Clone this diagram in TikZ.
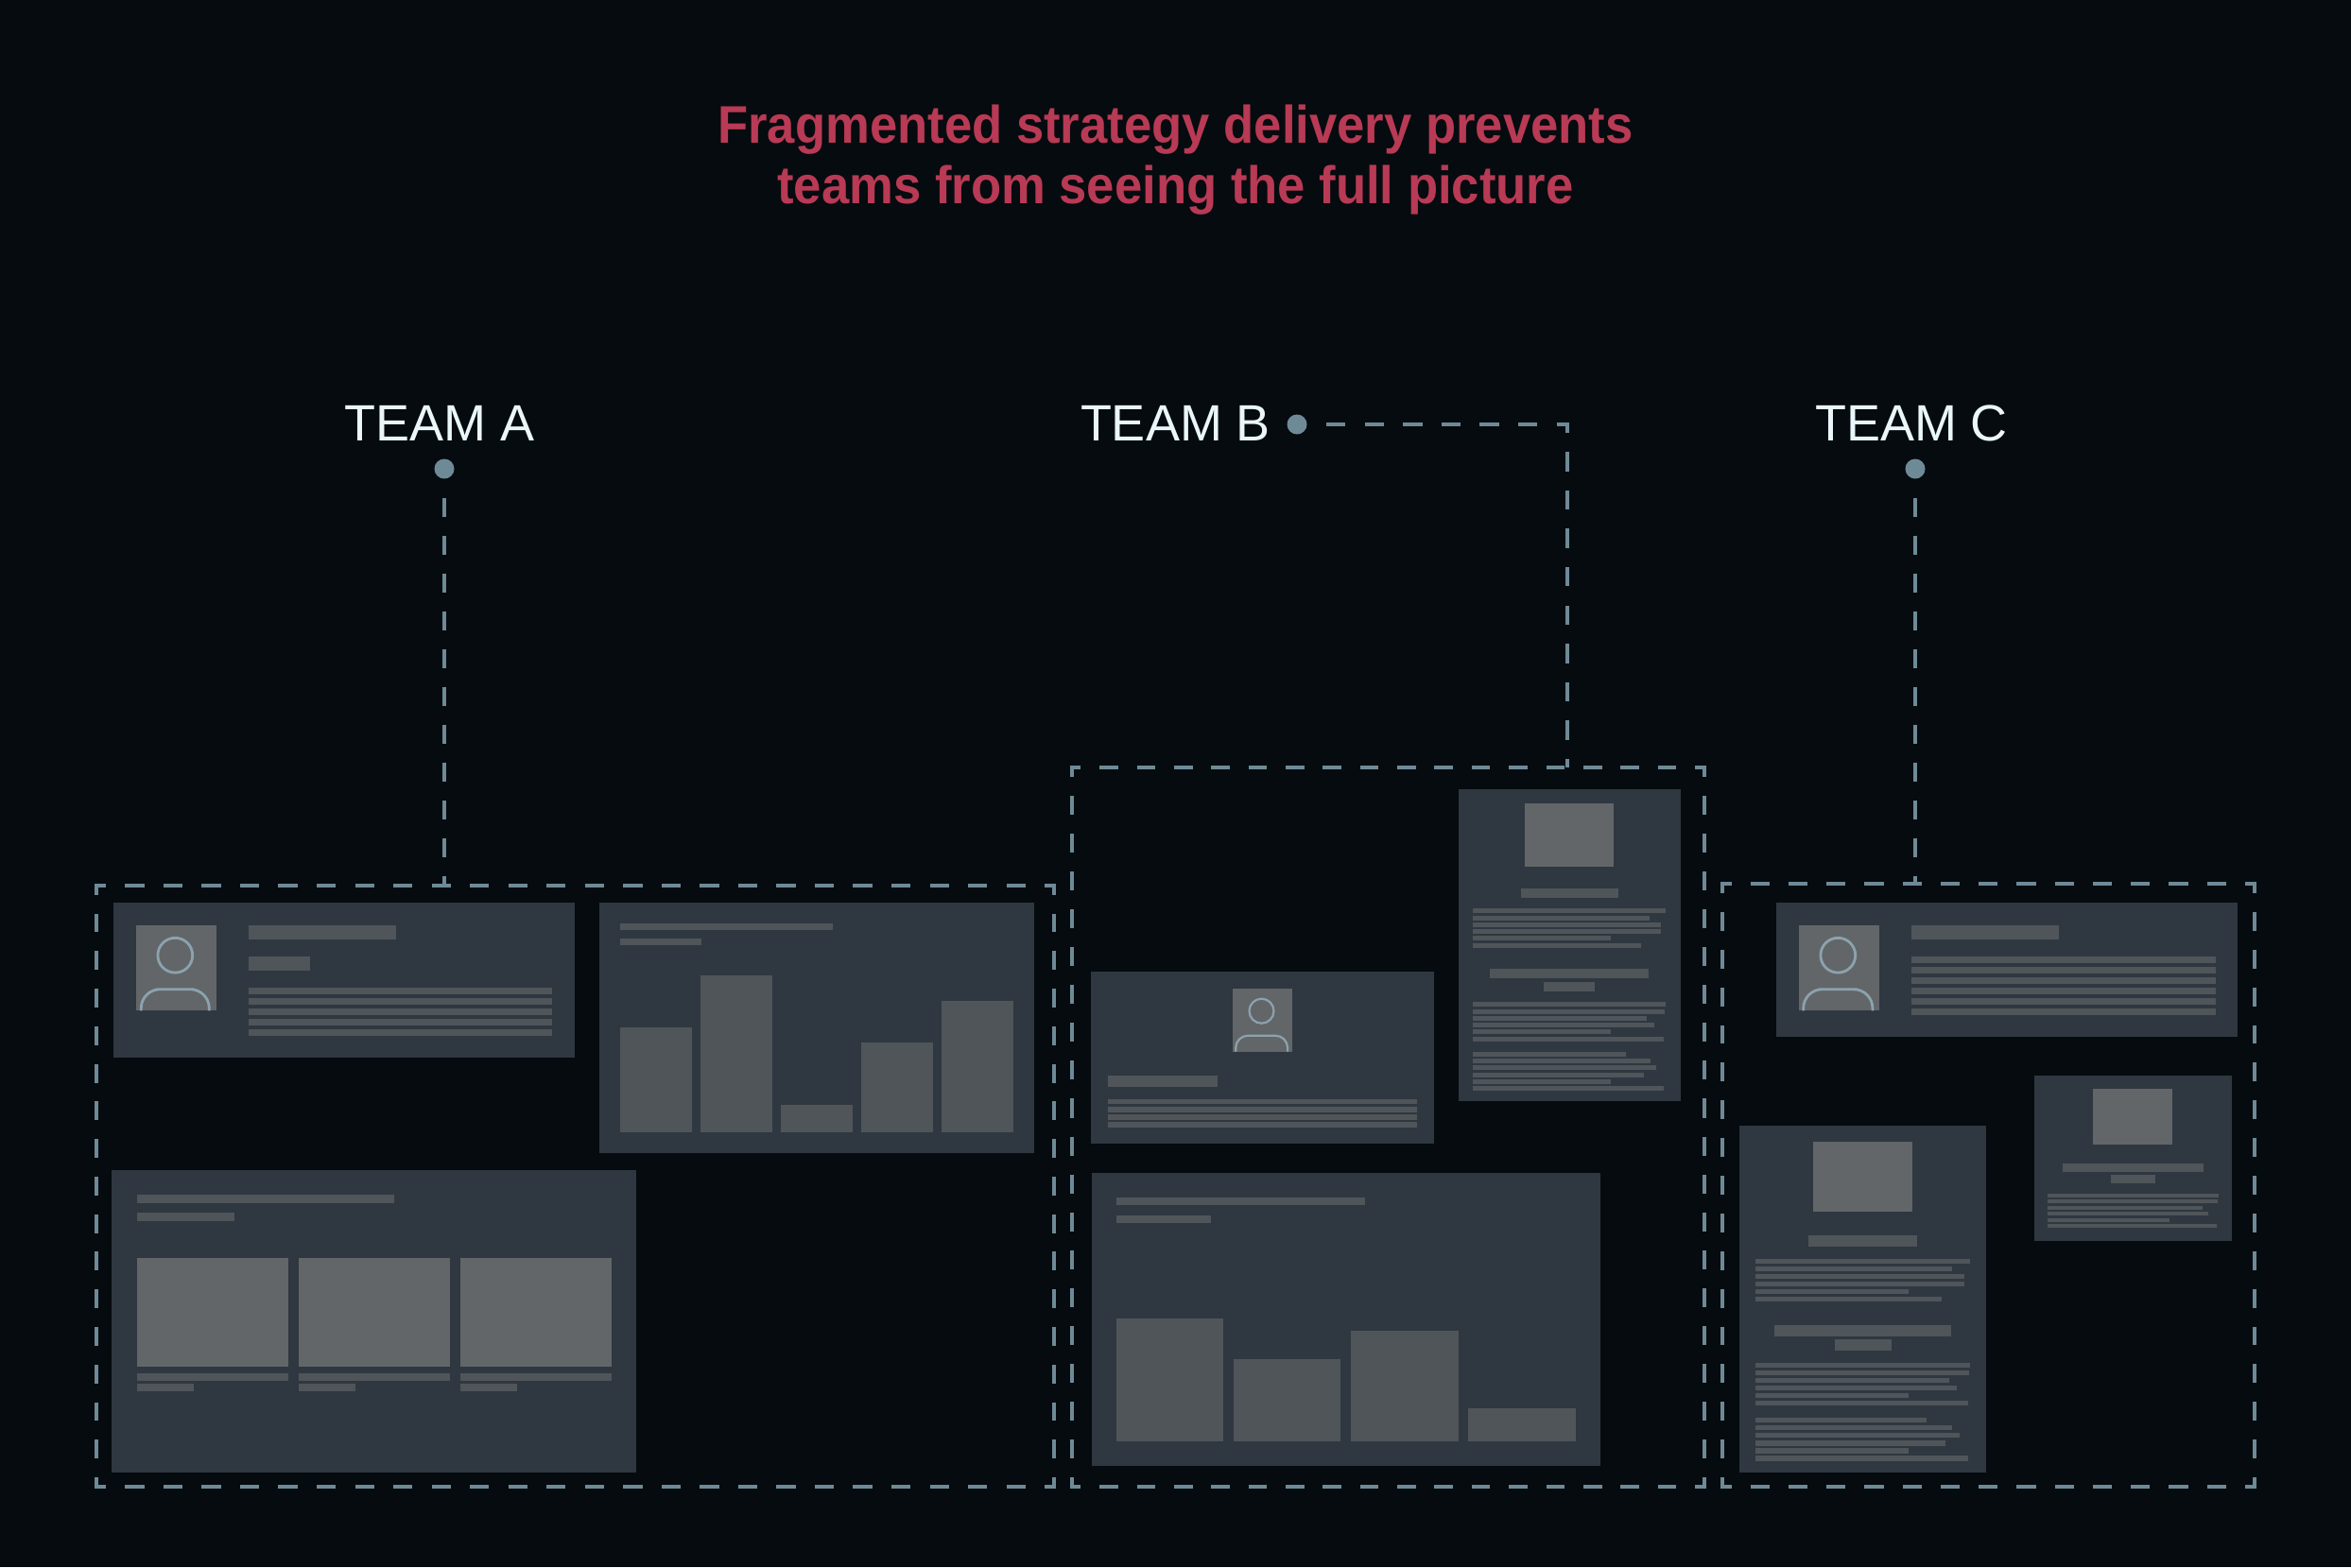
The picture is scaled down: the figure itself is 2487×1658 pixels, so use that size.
\documentclass[tikz,border=0pt]{standalone}
\usepackage{fontspec}
\setmainfont{Liberation Sans}
\newfontfamily\titlefont[FakeStretch=0.94]{Liberation Sans}
\usepackage{xcolor}
\usetikzlibrary{positioning}
\definecolor{tmback}{HTML}{060B0F}
\definecolor{tmcard}{HTML}{2F3740}
\definecolor{tmbar}{HTML}{4F5559}
\definecolor{tmimage}{HTML}{626668}
\definecolor{tmlink}{HTML}{6F8A97}
\definecolor{tmperson}{HTML}{8CA2AE}
\definecolor{tmtitle}{HTML}{B83A55}
\definecolor{tmlabel}{HTML}{EAF6FA}

% frame: name, x1, y1, x2, y2, dashes across, dashes down
\newcommand{\teamframe}[7]{
  \pgfmathsetmacro{\hdash}{(#4-#2)/#6/2}
  \pgfmathsetmacro{\vdash}{(#5-#3)/#7/2}
  \pgfmathsetmacro{\hphase}{\hdash/2-2}
  \pgfmathsetmacro{\vphase}{\vdash/2-2}
  \coordinate (#1nw) at (#2,#3);
  \coordinate (#1ne) at (#4,#3);
  \coordinate (#1sw) at (#2,#5);
  \coordinate (#1se) at (#4,#5);
  \draw[frameline, dash pattern=on \hdash pt off \hdash pt, dash phase=\hphase pt] (#1nw) -- (#1ne);
  \draw[frameline, dash pattern=on \hdash pt off \hdash pt, dash phase=\hphase pt] (#1sw) -- (#1se);
  \draw[frameline, dash pattern=on \vdash pt off \vdash pt, dash phase=\vphase pt] (#1nw) -- (#1sw);
  \draw[frameline, dash pattern=on \vdash pt off \vdash pt, dash phase=\vphase pt] (#1ne) -- (#1se);
}
% portrait: x1, y1, x2, y2, head x, head y, body x1, body x2
\newcommand{\portrait}[8]{
  \fill[tmimage] (#1,#2) rectangle (#3,#4);
  \draw[personline] (#5,#6) circle[radius=18.4pt];
  \draw[personline, rounded corners=20pt] (#7,#4) |- (#5,#4-22.6) -| (#8,#4);
}
% bars of text: x, first top, step, height, list of right ends
\newcommand{\textlines}[5]{
  \foreach \rgt [count=\i from 0] in {#5}
    \fill[tmbar] (#1,{#2+\i*#3}) rectangle (\rgt,{#2+\i*#3+#4});
}

\begin{document}
\begin{tikzpicture}[
  x=1pt, y=-1pt,
  frameline/.style={draw=tmlink, line width=4pt, shorten >=-2pt, shorten <=-2pt},
  link/.style={draw=tmlink, line width=3.8pt, dash pattern=on 20pt off 20pt, dash phase=20pt},
  personline/.style={draw=tmperson, line width=2.8pt},
  tmdot/.style={circle, fill=tmlink, minimum size=21pt, inner sep=0pt},
  teamlabel/.style={font=\fontsize{54}{60}\selectfont, text=tmlabel, anchor=base, inner sep=0pt},
  headline/.style={font=\titlefont\fontsize{56}{64}\selectfont\bfseries, text=tmtitle, align=center, anchor=base, inner sep=0pt},
]
\fill[tmback] (0,0) rectangle (2487,1658);

% Title
\node[headline] (titleone) at (1243.5,151) {Fragmented strategy delivery prevents};
\node[headline] (titletwo) at (1243.5,215) {teams from seeing the full picture};

% Team labels and dots
\node[teamlabel] (teama) at (465,466.7) {TEAM A};
\node[teamlabel] (teamb) at (1243.5,466.7) {TEAM B};
\node[teamlabel] (teamc) at (2022,466.7) {TEAM C};
\node[tmdot] (dota) at (470,496) {};
\node[tmdot] (dotb) at (1372,449) {};
\node[tmdot] (dotc) at (2026,496) {};

% Frames
\teamframe{framea}{101.9}{936.7}{1115.3}{1573}{25}{16}
\teamframe{frameb}{1133.6}{812}{1802.8}{1573}{17}{19}
\teamframe{framec}{1821.5}{935}{2385}{1573}{14}{16}

% Links
\coordinate (framealink) at (470,936.7);
\coordinate (frameblink) at (1658,812);
\coordinate (frameclink) at (2026,935);
\draw[link] (dota) -- (framealink);
\draw[link, dash pattern=on 20.3pt off 20.3pt, dash phase=20.3pt] (dotb) -| (frameblink);
\draw[link] (dotc) -- (frameclink);

% Team A: person card
\fill[tmcard] (120,955) rectangle (608,1119.3);
\portrait{143.8}{979}{228.8}{1069.3}{185.3}{1010.7}{149.3}{221.3}
\fill[tmbar] (263.2,978.7) rectangle (419,994);
\fill[tmbar] (263.2,1011.7) rectangle (328.4,1027.3);
\textlines{263.2}{1044.7}{11}{7}{584.3,584.3,584.3,584.3,584.3}

% Team A: chart card
\fill[tmcard] (634,955) rectangle (1094,1220.3);
\fill[tmbar] (656,977) rectangle (881,984);
\fill[tmbar] (656,993) rectangle (741.7,1000);
\foreach \xa/\ya in {656/1087, 741/1032, 826/1169.3, 911/1103, 995.7/1058.7}
  \fill[tmbar] (\xa,\ya) rectangle (\xa+76,1197.7);

% Team A: image card
\fill[tmcard] (118,1237.7) rectangle (673.3,1557.7);
\fill[tmbar] (145.2,1264.3) rectangle (416.5,1272.7);
\fill[tmbar] (145.2,1283.3) rectangle (248.1,1291.7);
\foreach \xa in {145.2, 315.8, 486.5} {
  \fill[tmimage] (\xa,1330.7) rectangle (\xa+160,1446);
  \fill[tmbar] (\xa,1452.7) rectangle (\xa+160,1460.7);
  \fill[tmbar] (\xa,1464) rectangle (\xa+60,1472.3);
}

% Team B: person card
\fill[tmcard] (1154.1,1028) rectangle (1516.6,1210);
\fill[tmimage] (1303.7,1046) rectangle (1367,1112.7);
\draw[personline, line width=2.2pt] (1334.5,1069.7) circle[radius=13pt];
\draw[personline, line width=2.2pt, rounded corners=13pt] (1307.2,1112.7) |- (1334.5,1095.7) -| (1362.1,1112.7);
\fill[tmbar] (1171.5,1138.3) rectangle (1287.6,1150);
\textlines{1171.5}{1162.7}{8.2}{5.6}{1499.2,1499.2,1499.2,1499.2}

% Team B: document card
\fill[tmcard] (1543,835) rectangle (1777.7,1164.7);
\fill[tmimage] (1613.3,850.3) rectangle (1707.3,917);
\fill[tmbar] (1609,940) rectangle (1711.7,950.3);
\textlines{1558.3}{961.3}{7.27}{5}{1762,1745,1757,1757,1704,1735.7}
\fill[tmbar] (1576,1025) rectangle (1744.3,1035.3);
\fill[tmbar] (1633.3,1038.7) rectangle (1687,1049);
\textlines{1558.3}{1060.3}{7.27}{5}{1762,1761.3,1742.3,1749.7,1704,1760.3}
\textlines{1558.3}{1112.7}{7.27}{5}{1720,1745.7,1751.7,1739,1704,1760.3}

% Team B: chart card
\fill[tmcard] (1155,1241) rectangle (1692.5,1551);
\fill[tmbar] (1180.9,1267) rectangle (1443.8,1275);
\fill[tmbar] (1180.9,1285.7) rectangle (1280.9,1293.7);
\foreach \xa/\ya in {1180.9/1395.3, 1305/1437.7, 1429.1/1408.3, 1553.2/1490}
  \fill[tmbar] (\xa,\ya) rectangle (\xa+113.4,1525);

% Team C: person card
\fill[tmcard] (1879.2,955) rectangle (2367.2,1097.3);
\portrait{1902.9}{979}{1987.6}{1069.3}{1944.3}{1010.7}{1907.7}{1980.9}
\fill[tmbar] (2022,978.7) rectangle (2178.1,994);
\textlines{2022}{1012}{11}{7}{2343.9,2343.9,2343.9,2343.9,2343.9,2343.9}

% Team C: small document
\fill[tmcard] (2152.2,1138) rectangle (2360.9,1312.7);
\fill[tmimage] (2214.4,1152) rectangle (2298,1211);
\fill[tmbar] (2181.5,1231) rectangle (2330.9,1240.3);
\fill[tmbar] (2232.9,1243) rectangle (2280.2,1252.3);
\textlines{2165.9}{1262.7}{6.5}{4}{2347.2,2346.1,2329.8,2336.1,2295,2345}

% Team C: long document
\fill[tmcard] (1840,1191) rectangle (2101.2,1557.7);
\fill[tmimage] (1918.4,1208) rectangle (2022.7,1282.3);
\fill[tmbar] (1913.2,1307.3) rectangle (2027.5,1319.3);
\textlines{1857}{1331.7}{8.07}{5.3}{2083.8,2064.5,2077.9,2077.9,2019,2054.2}
\fill[tmbar] (1877,1402.3) rectangle (2064.2,1414);
\fill[tmbar] (1940.6,1417.3) rectangle (2000.5,1429);
\textlines{1857}{1441.7}{8.07}{5.3}{2083.8,2083,2062,2070,2019,2081.6}
\textlines{1857}{1500}{8.07}{5.3}{2037.5,2065.3,2072.7,2058.3,2019,2081.6}
\end{tikzpicture}
\end{document}
